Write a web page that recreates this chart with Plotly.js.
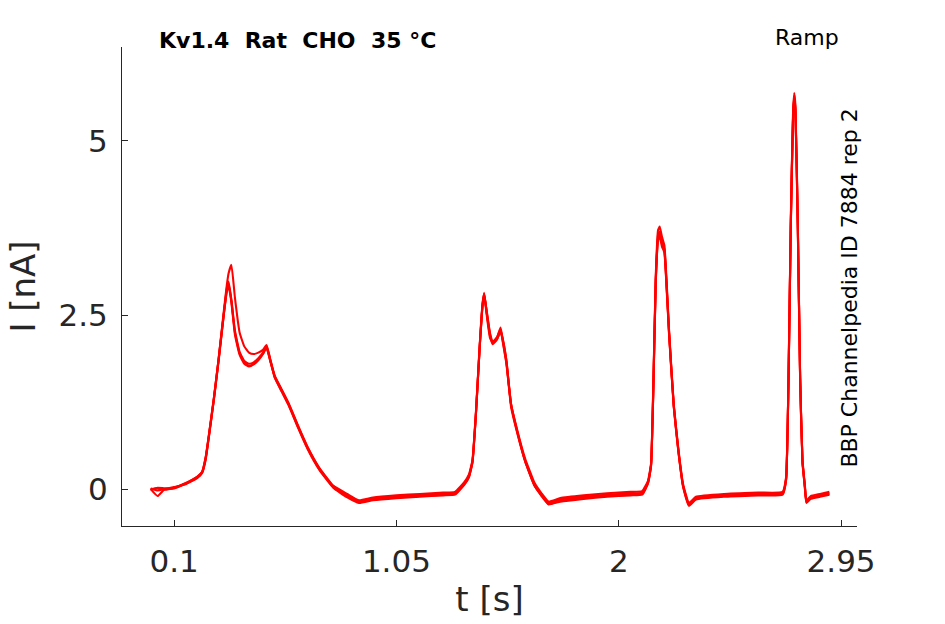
<!DOCTYPE html>
<html>
<head>
<meta charset="utf-8">
<script src="https://cdn.plot.ly/plotly-3.0.1.min.js"></script>
<style>html,body{margin:0;padding:0;background:#fff;}#chart{width:945px;height:624px;}</style>
</head>
<body>
<div id="chart"></div>
<script>
// time [s] shared by all sweeps
const timeS = [
  0.00, 0.03, 0.06, 0.10, 0.15, 0.20, 0.22, 0.235, 0.25, 0.27,
  0.29, 0.31, 0.325, 0.333, 0.345, 0.36, 0.38, 0.40, 0.42, 0.44,
  0.46, 0.48, 0.495, 0.51, 0.53, 0.56, 0.59, 0.63, 0.67, 0.72,
  0.78, 0.84, 0.89, 0.95, 1.05, 1.15, 1.25, 1.30, 1.34, 1.36,
  1.375, 1.39, 1.405, 1.418, 1.425, 1.435, 1.45, 1.462, 1.48, 1.495,
  1.505, 1.52, 1.54, 1.57, 1.60, 1.64, 1.67, 1.70, 1.75, 1.85,
  1.95, 2.05, 2.10, 2.125, 2.138, 2.148, 2.158, 2.168, 2.175, 2.185,
  2.195, 2.205, 2.215, 2.235, 2.255, 2.275, 2.30, 2.33, 2.45, 2.60,
  2.70, 2.715, 2.725, 2.735, 2.745, 2.75, 2.755, 2.765, 2.775, 2.785,
  2.795, 2.802, 2.82, 2.86, 2.90
];
// current [nA] per sweep
const sweep1 = [
  0.00, 0.01, -0.01, 0.02, 0.09, 0.18, 0.25, 0.45, 0.80, 1.30,
  1.85, 2.45, 2.85, 2.95, 2.70, 2.25, 1.95, 1.82, 1.77, 1.80,
  1.86, 1.95, 2.04, 1.85, 1.62, 1.42, 1.22, 0.90, 0.60, 0.30,
  0.04, -0.09, -0.18, -0.14, -0.11, -0.09, -0.07, -0.06, 0.08, 0.19,
  0.40, 1.10, 2.00, 2.65, 2.82, 2.55, 2.20, 2.08, 2.15, 2.28,
  2.15, 1.85, 1.22, 0.78, 0.40, 0.05, -0.08, -0.20, -0.15, -0.11,
  -0.08, -0.06, -0.05, 0.10, 0.35, 1.50, 3.00, 3.65, 3.70, 3.55,
  3.45, 2.90, 2.25, 1.20, 0.55, 0.05, -0.22, -0.13, -0.09, -0.07,
  -0.06, 0.15, 1.50, 3.80, 5.40, 5.65, 5.45, 3.80, 1.60, 0.40,
  0.05, -0.18, -0.12, -0.09, -0.06
];
const sweep2 = [
  0.01, -0.02, 0.00, 0.03, 0.07, 0.16, 0.23, 0.42, 0.78, 1.28,
  1.83, 2.43, 2.88, 2.98, 2.72, 2.28, 1.97, 1.84, 1.80, 1.82,
  1.88, 1.96, 2.06, 1.87, 1.60, 1.40, 1.20, 0.88, 0.58, 0.28,
  0.02, -0.12, -0.20, -0.16, -0.13, -0.11, -0.09, -0.08, 0.06, 0.17,
  0.38, 1.08, 1.98, 2.62, 2.78, 2.58, 2.24, 2.12, 2.18, 2.32,
  2.12, 1.82, 1.18, 0.76, 0.40, 0.05, -0.10, -0.22, -0.18, -0.14,
  -0.11, -0.09, -0.08, 0.08, 0.33, 1.45, 2.95, 3.58, 3.62, 3.48,
  3.40, 2.85, 2.22, 1.18, 0.53, 0.03, -0.24, -0.15, -0.11, -0.09,
  -0.08, 0.13, 1.48, 3.75, 5.35, 5.60, 5.40, 3.75, 1.58, 0.38,
  0.03, -0.20, -0.14, -0.11, -0.08
];
const sweep3 = [
  -0.01, 0.02, 0.01, 0.01, 0.08, 0.17, 0.24, 0.44, 0.79, 1.29,
  1.86, 2.48, 2.92, 3.10, 3.22, 2.75, 2.25, 2.05, 1.96, 1.94,
  1.96, 2.00, 2.07, 1.88, 1.63, 1.43, 1.23, 0.91, 0.61, 0.31,
  0.05, -0.07, -0.16, -0.12, -0.09, -0.07, -0.05, -0.04, 0.10, 0.21,
  0.42, 1.12, 2.02, 2.67, 2.80, 2.52, 2.17, 2.10, 2.18, 2.30,
  2.10, 1.80, 1.22, 0.80, 0.44, 0.09, -0.06, -0.18, -0.13, -0.09,
  -0.06, -0.04, -0.03, 0.12, 0.37, 1.55, 3.05, 3.72, 3.77, 3.62,
  3.50, 2.95, 2.28, 1.22, 0.57, 0.07, -0.20, -0.11, -0.07, -0.05,
  -0.04, 0.17, 1.52, 3.85, 5.45, 5.69, 5.50, 3.85, 1.62, 0.42,
  0.07, -0.16, -0.10, -0.07, -0.04
];
const sweep4 = [
  0.00, -0.10, 0.00, 0.02, 0.08, 0.18, 0.25, 0.46, 0.81, 1.31,
  1.86, 2.44, 2.83, 2.92, 2.68, 2.22, 1.93, 1.80, 1.76, 1.79,
  1.85, 1.94, 2.03, 1.86, 1.61, 1.41, 1.21, 0.89, 0.59, 0.29,
  0.03, -0.10, -0.19, -0.15, -0.12, -0.10, -0.08, -0.07, 0.07, 0.18,
  0.39, 1.09, 1.99, 2.64, 2.80, 2.56, 2.22, 2.10, 2.16, 2.26,
  2.14, 1.84, 1.21, 0.77, 0.41, 0.06, -0.09, -0.21, -0.17, -0.12,
  -0.10, -0.08, -0.07, 0.09, 0.34, 1.48, 2.98, 3.60, 3.66, 3.52,
  3.42, 2.88, 2.24, 1.19, 0.54, 0.04, -0.23, -0.14, -0.10, -0.08,
  -0.07, 0.14, 1.49, 3.78, 5.38, 5.62, 5.42, 3.78, 1.59, 0.39,
  0.04, -0.19, -0.13, -0.10, -0.07
];
const sweeps = [sweep1, sweep2, sweep3, sweep4];

const xTickVals = [0.1, 1.05, 2, 2.95];
const xTickText = ['0.1', '1.05', '2', '2.95'];
const yTickVals = [0, 2.5, 5];
const yTickText = ['0', '2.5', '5'];

const titleText = 'Kv1.4\u00a0\u00a0Rat\u00a0\u00a0CHO\u00a0\u00a035 °C';
const protocolText = 'Ramp';
const sideText = 'BBP Channelpedia ID 7884 rep 2';

const axisColor = '#262626';
const fam = '"DejaVu Sans", sans-serif';
const tickFont = {family: fam, size: 31, color: axisColor};
const axTitleFont = {family: fam, size: 34, color: axisColor};

const traces = sweeps.map(s => ({
  x: timeS, y: s, type: 'scatter', mode: 'lines',
  line: {color: '#ff0000', width: 2.1, shape: 'spline', smoothing: 0.4},
  hoverinfo: 'skip', showlegend: false
}));

const layout = {
  width: 945, height: 624,
  margin: {l: 122, r: 88, t: 47, b: 98},
  paper_bgcolor: '#ffffff', plot_bgcolor: '#ffffff',
  showlegend: false,
  xaxis: {
    range: [-0.1225, 3.018], tickvals: xTickVals, ticktext: xTickText,
    ticks: 'inside', ticklen: 6, tickwidth: 1, tickcolor: axisColor,
    showline: true, linecolor: axisColor, linewidth: 1, mirror: false,
    showgrid: false, zeroline: false, tickfont: tickFont,
    ticklabelstandoff: 8,
    title: {text: 't [s]', font: axTitleFont, standoff: 8}
  },
  yaxis: {
    range: [-0.53, 6.35], tickvals: yTickVals, ticktext: yTickText,
    ticks: 'inside', ticklen: 6, tickwidth: 1, tickcolor: axisColor,
    showline: true, linecolor: axisColor, linewidth: 1, mirror: false,
    showgrid: false, zeroline: false, tickfont: tickFont,
    ticklabelstandoff: 7,
    title: {text: 'I [nA]', font: axTitleFont, standoff: 12}
  },
  annotations: [
    {text: '<b>' + titleText + '</b>', xref: 'paper', yref: 'paper', x: 0.047, y: 1.0146,
     xanchor: 'left', yanchor: 'middle', showarrow: false,
     font: {family: fam, size: 22, color: '#000'}},
    {text: protocolText, xref: 'paper', yref: 'paper', x: 0.932, y: 1.019,
     xanchor: 'center', yanchor: 'middle', showarrow: false,
     font: {family: fam, size: 22, color: '#000'}},
    {text: sideText, xref: 'paper', yref: 'paper', x: 0.990, y: 0.497, textangle: -90,
     xanchor: 'center', yanchor: 'middle', showarrow: false,
     font: {family: fam, size: 22, color: '#000'}}
  ]
};

Plotly.newPlot('chart', traces, layout, {staticPlot: true, displayModeBar: false});
</script>
</body>
</html>
